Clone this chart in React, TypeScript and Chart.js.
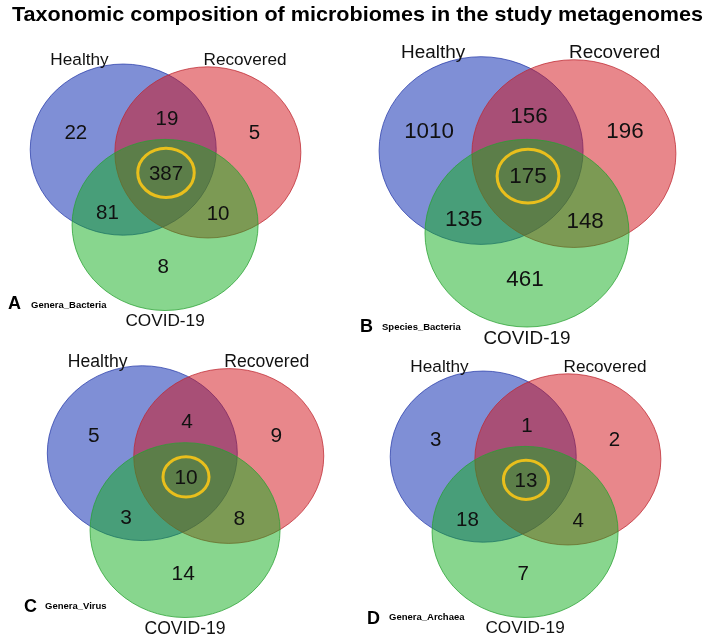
import React, { useEffect, useRef } from 'react';
import { Chart, registerables } from 'chart.js';

Chart.register(...registerables);

// ---------- data ----------
const TITLE = 'Taxonomic composition of microbiomes in the study metagenomes';
const SET_NAMES = ['Healthy', 'Recovered', 'COVID-19'];
const PANEL_LETTERS = ['A', 'B', 'C', 'D'];
const PANEL_NAMES = ['Genera_Bacteria', 'Species_Bacteria', 'Genera_Virus', 'Genera_Archaea'];
// region order: Healthy only, Healthy∩Recovered, Recovered only, all three,
// Healthy∩COVID, Recovered∩COVID, COVID only
const REGIONS = ['H', 'HR', 'R', 'HRC', 'HC', 'RC', 'C'];
const COUNTS_A = [22, 19, 5, 387, 81, 10, 8];
const COUNTS_B = [1010, 156, 196, 175, 135, 148, 461];
const COUNTS_C = [5, 4, 9, 10, 3, 8, 14];
const COUNTS_D = [3, 1, 2, 13, 18, 4, 7];
const PANEL_COUNTS = [COUNTS_A, COUNTS_B, COUNTS_C, COUNTS_D];
const HIGHLIGHT_REGION = 3;

// ---------- layout (normalised Venn geometry, unit = circle x-radius) ----------
const CIRCLE_CENTERS = [[-0.46, -0.23], [0.45, -0.2], [-0.01, 0.58]];
const CIRCLE_RY = 0.92;
const REGION_POS = [[-0.97, -0.42], [0.01, -0.57], [0.95, -0.42], [0, 0.02], [-0.63, 0.44], [0.56, 0.46], [-0.03, 1.03]];
const SET_LABEL_POS = [[-0.93, -1.19], [0.85, -1.19], [-0.01, 1.62]];
const FILLS = ['rgba(0,31,173,0.5)', 'rgba(209,15,23,0.5)', 'rgba(17,173,29,0.5)'];
const STROKES = ['rgba(40,60,170,0.75)', 'rgba(190,40,50,0.75)', 'rgba(40,160,50,0.75)'];
const PANELS = [
  { ox: 166, oy: 171, s: 93, lx: 8, ly: 309, nx: 31, ny: 305 },
  { ox: 528, oy: 174, s: 102, lx: 360, ly: 332, nx: 382, ny: 327 },
  { ox: 186, oy: 475, s: 95, lx: 24, ly: 612, nx: 45, ny: 606 },
  { ox: 526, oy: 478, s: 93, lx: 367, ly: 624, nx: 389, ny: 617 },
];
const FONT = '"Liberation Sans", Arial, Helvetica, sans-serif';
const W = 708;
const H = 642;

const vennPlugin = {
  id: 'venn',
  beforeDatasetsDraw(chart: any) {
    const ctx = chart.ctx;
    const xs = chart.scales.x;
    const ys = chart.scales.y;
    ctx.save();
    // title
    ctx.fillStyle = '#000';
    ctx.font = `bold 21px ${FONT}`;
    ctx.textAlign = 'center';
    ctx.textBaseline = 'alphabetic';
    const tw = ctx.measureText(TITLE).width;
    ctx.save();
    ctx.translate(xs.getPixelForValue(357.5), ys.getPixelForValue(21));
    ctx.scale(Math.min(1.2, 691 / tw), 1);
    ctx.fillText(TITLE, 0, 0);
    ctx.restore();

    PANELS.forEach((p) => {
      const rx = Math.abs(xs.getPixelForValue(p.ox + p.s) - xs.getPixelForValue(p.ox));
      const ryu = Math.abs(ys.getPixelForValue(p.oy + p.s) - ys.getPixelForValue(p.oy));
      CIRCLE_CENTERS.forEach(([u, v], k) => {
        const cx = xs.getPixelForValue(p.ox + u * p.s);
        const cy = ys.getPixelForValue(p.oy + v * p.s);
        ctx.beginPath();
        ctx.ellipse(cx, cy, rx, ryu * CIRCLE_RY, 0, 0, Math.PI * 2);
        ctx.fillStyle = FILLS[k];
        ctx.fill();
        ctx.lineWidth = 1;
        ctx.strokeStyle = STROKES[k];
        ctx.stroke();
      });
    });
    ctx.restore();
  },
  afterDatasetsDraw(chart: any) {
    const ctx = chart.ctx;
    const xs = chart.scales.x;
    const ys = chart.scales.y;
    ctx.save();
    PANELS.forEach((p, i) => {
      const meta = chart.getDatasetMeta(i);
      const counts = PANEL_COUNTS[i];
      const numSize = 0.22 * p.s;
      ctx.fillStyle = '#111';
      ctx.textAlign = 'center';
      ctx.textBaseline = 'middle';
      ctx.font = `${numSize.toFixed(1)}px ${FONT}`;
      meta.data.forEach((el: any, j: number) => {
        const txt = String(counts[j]);
        ctx.fillText(txt, el.x, el.y + 1);
        if (j === HIGHLIGHT_REGION) {
          const w = ctx.measureText(txt).width;
          const erx = w / 2 + 0.12 * p.s;
          ctx.save();
          ctx.beginPath();
          ctx.ellipse(el.x, el.y, erx, erx * 0.87, 0, 0, Math.PI * 2);
          ctx.lineWidth = 3;
          ctx.strokeStyle = '#e9bf1c';
          ctx.stroke();
          ctx.restore();
        }
      });
      // set names
      ctx.font = `${(0.185 * p.s).toFixed(1)}px ${FONT}`;
      SET_LABEL_POS.forEach(([u, v], k) => {
        ctx.fillText(SET_NAMES[k], xs.getPixelForValue(p.ox + u * p.s), ys.getPixelForValue(p.oy + v * p.s));
      });
      // panel letter and name
      ctx.textAlign = 'left';
      ctx.textBaseline = 'alphabetic';
      ctx.fillStyle = '#000';
      ctx.font = `bold 18px ${FONT}`;
      ctx.fillText(PANEL_LETTERS[i], xs.getPixelForValue(p.lx), ys.getPixelForValue(p.ly));
      ctx.textBaseline = 'middle';
      ctx.font = `bold 9.5px ${FONT}`;
      ctx.fillText(PANEL_NAMES[i], xs.getPixelForValue(p.nx), ys.getPixelForValue(p.ny));
    });
    ctx.restore();
  },
};

export default function App() {
  const ref = useRef<HTMLCanvasElement | null>(null);
  useEffect(() => {
    if (!ref.current) return;
    const chart = new Chart(ref.current, {
      type: 'scatter',
      data: {
        datasets: PANELS.map((p, i) => ({
          label: PANEL_NAMES[i],
          data: REGION_POS.map(([u, v], j) => ({ x: p.ox + u * p.s, y: p.oy + v * p.s, region: REGIONS[j] })),
          pointRadius: 0,
          pointHoverRadius: 0,
        })),
      },
      options: {
        responsive: false,
        animation: false,
        events: [],
        layout: { padding: 0 },
        plugins: { legend: { display: false }, tooltip: { enabled: false }, title: { display: false } },
        scales: {
          x: { type: 'linear', min: 0, max: W, display: false },
          y: { type: 'linear', min: 0, max: H, reverse: true, display: false },
        },
      } as any,
      plugins: [vennPlugin],
    });
    return () => chart.destroy();
  }, []);
  return (
    <div style={{ position: 'absolute', left: 0, top: 0, width: W, height: H, background: '#fff' }}>
      <canvas ref={ref} width={W} height={H} style={{ width: W, height: H, display: 'block' }} />
    </div>
  );
}
